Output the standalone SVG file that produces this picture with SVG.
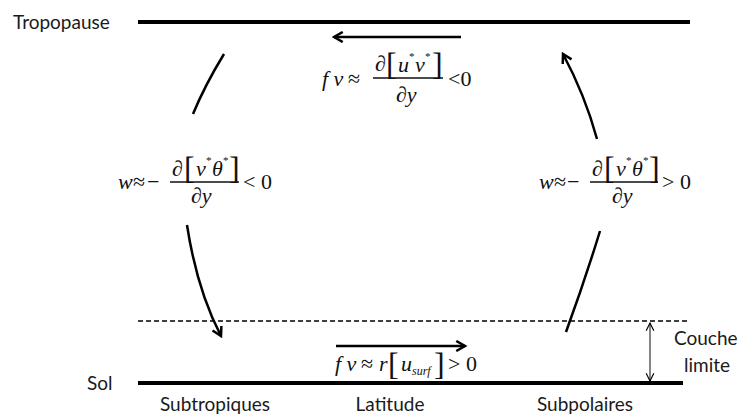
<svg xmlns="http://www.w3.org/2000/svg" width="745" height="416" viewBox="0 0 745 416">
<style>
.lbl{font-family:Lato,"Open Sans","Liberation Sans",sans-serif;font-size:19px;fill:#1a1a1a}
.m{font-family:"Liberation Serif","Times New Roman",serif;font-style:italic;font-size:22px;fill:#111}
.mu{font-family:"Liberation Serif","Times New Roman",serif;font-size:22px;fill:#111}
.br{font-family:"Liberation Serif",serif;font-size:32px;fill:#111}
.sup{font-family:"Liberation Serif",serif;font-size:11px;fill:#111}
.sub{font-family:"Liberation Serif",serif;font-style:italic;font-size:12px;fill:#111}
.thick{stroke:#000;stroke-width:4;fill:none}
.arr{stroke:#000;stroke-width:2.5;fill:none}
.frac{stroke:#111;stroke-width:1.3}
</style>
<defs>
<marker id="ah" viewBox="0 0 10 10" refX="8" refY="5" markerWidth="5" markerHeight="5" orient="auto">
<path d="M1,1 L8,5 L1,9" fill="none" stroke="#000" stroke-width="2"/>
</marker>
<marker id="sh" viewBox="0 0 10 10" refX="9" refY="5" markerWidth="8" markerHeight="8" orient="auto-start-reverse">
<path d="M1,1 L9,5 L1,9" fill="none" stroke="#000" stroke-width="1.2"/>
</marker>
</defs>

<g id="tropopause">
<text class="lbl" x="13" y="29">Tropopause</text>
<line class="thick" x1="138" y1="22" x2="690" y2="22"/>
</g>
<g id="sol">
<text class="lbl" x="87" y="390">Sol</text>
<line class="thick" x1="138" y1="383" x2="683" y2="383"/>
</g>
<g id="couche-limite">
<line x1="138" y1="321" x2="690" y2="321" stroke="#000" stroke-width="1.3" stroke-dasharray="5,3"/>
<text class="lbl" x="674" y="345">Couche</text>
<text class="lbl" x="684" y="372">limite</text>
</g>
<g id="axis-labels">
<text class="lbl" x="215" y="411" text-anchor="middle">Subtropiques</text>
<text class="lbl" x="390" y="411" text-anchor="middle">Latitude</text>
<text class="lbl" x="585" y="411" text-anchor="middle">Subpolaires</text>
</g>

<g id="eq-top">
<text class="m" x="322" y="86">f v</text>
<text class="mu" x="348" y="86">≈</text>
<text class="m" x="375" y="71">∂</text>
<text class="br" x="386" y="75">[</text>
<text class="m" x="398" y="72">u</text><text class="sup" x="409" y="60">*</text>
<text class="m" x="415" y="72">v</text><text class="sup" x="425" y="60">*</text>
<text class="br" x="432" y="75">]</text>
<line class="frac" x1="373" y1="78" x2="443" y2="78"/>
<text class="m" x="396" y="102">∂y</text>
<text class="mu" x="448" y="86">&lt;0</text>
</g>

<g id="eq-left">
<text class="m" x="118" y="189">w</text>
<text class="mu" x="133" y="189">≈</text>
<text class="mu" x="147" y="189">−</text>
<text class="m" x="172" y="176">∂</text>
<text class="br" x="184" y="179">[</text>
<text class="m" x="196" y="176">v</text><text class="sup" x="206" y="164">*</text>
<text class="m" x="212" y="176">θ</text><text class="sup" x="223" y="164">*</text>
<text class="br" x="229" y="179">]</text>
<line class="frac" x1="170" y1="182" x2="239" y2="182"/>
<text class="m" x="191" y="203">∂y</text>
<text class="mu" x="243" y="189">&lt; 0</text>
</g>

<g id="eq-right">
<text class="m" x="539" y="189">w</text>
<text class="mu" x="554" y="189">≈</text>
<text class="mu" x="567" y="189">−</text>
<text class="m" x="592" y="176">∂</text>
<text class="br" x="604" y="179">[</text>
<text class="m" x="616" y="176">v</text><text class="sup" x="626" y="164">*</text>
<text class="m" x="632" y="176">θ</text><text class="sup" x="643" y="164">*</text>
<text class="br" x="649" y="179">]</text>
<line class="frac" x1="590" y1="182" x2="658" y2="182"/>
<text class="m" x="612" y="203">∂y</text>
<text class="mu" x="662" y="189">&gt; 0</text>
</g>

<g id="eq-bottom">
<text class="m" x="335" y="371">f v</text>
<text class="mu" x="361" y="371">≈</text>
<text class="m" x="379" y="371">r</text>
<text class="br" x="388" y="375">[</text>
<text class="m" x="401" y="371">u</text>
<text class="sub" x="412" y="375">surf</text>
<text class="br" x="434" y="375">]</text>
<text class="mu" x="448" y="371">&gt; 0</text>
</g>

<g id="connectors">
<line class="arr" x1="461" y1="37" x2="334" y2="37" marker-end="url(#ah)"/>
<line class="arr" x1="336" y1="346" x2="465" y2="346" marker-end="url(#ah)"/>
<path class="arr" d="M224,54 Q205,85 193,114"/>
<path class="arr" d="M187,225 Q197,290 221,336" marker-end="url(#ah)"/>
<path class="arr" d="M566,332 Q585,280 600,231"/>
<path class="arr" d="M597,139 Q585,95 563,54" marker-end="url(#ah)"/>
<line x1="650" y1="323" x2="650" y2="381" stroke="#333" stroke-width="1.2" marker-start="url(#sh)" marker-end="url(#sh)"/>
</g>
</svg>
